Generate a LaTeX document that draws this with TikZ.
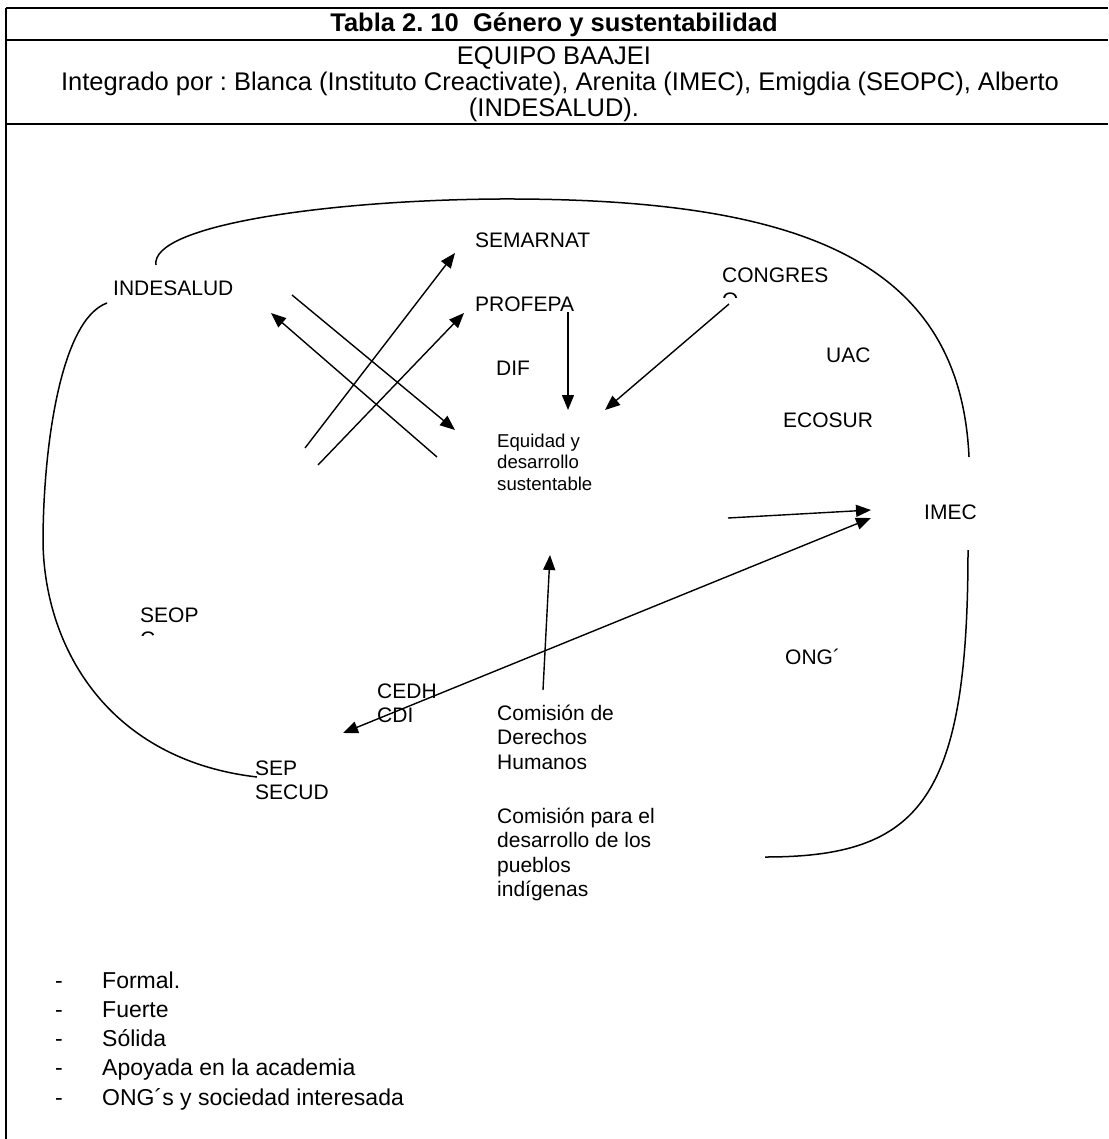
\documentclass[tikz,border=0pt]{standalone}
\usepackage{fontspec}
\setmainfont{Liberation Sans}
\usetikzlibrary{arrows.meta,calc,positioning}
\frenchspacing

\begin{document}
\begin{tikzpicture}[x=1pt,y=-1pt,>={Triangle[length=15pt,width=12pt]},
  rule/.style={line width=1.2pt},
  ring/.style={line width=1.5pt},
  link/.style={->,line width=1.4pt},
  head/.style={inner sep=0pt,anchor=base,font=\fontsize{25.5}{27}\selectfont},
  lbl/.style={inner sep=0pt,anchor=base west,align=left,font=\fontsize{21}{24.5}\selectfont},
  smalllbl/.style={lbl,font=\fontsize{18.6}{21.5}\selectfont},
  item/.style={inner sep=0pt,anchor=base west,font=\fontsize{23}{27}\selectfont}]
  \useasboundingbox (0,0) rectangle (1108,1139);

  % table frame
  \draw[rule] (6,8) -- (1108,8);
  \draw[rule] (6,40) -- (1108,40);
  \draw[rule] (6,124) -- (1108,124);
  \draw[rule] (6,8) -- (6,1139);

  % header
  \node[head,font=\fontsize{25.5}{27}\selectfont\bfseries] (title) at (554,32) {Tabla 2. 10\ \ Género y sustentabilidad};
  \node[head] (team) at (554,65) {EQUIPO BAAJEI};
  \node[head] (members) at (560,91) {Integrado por : Blanca (Instituto Creactivate), Arenita (IMEC), Emigdia (SEOPC), Alberto};
  \node[head] (members2) at (554,117) {(INDESALUD).};

  % actors (multi-line nodes sit on the baseline of their last line)
  \node[lbl] (indesalud) at (113,295) {INDESALUD};
  \node[lbl] (semarnat) at (475,248) {SEMARNAT};
  \node[lbl] (profepa) at (475,312) {PROFEPA};
  \node[lbl] (dif) at (496,375) {DIF};
  \node[lbl] (congreso) at (722,283) {CONGRES};
  \begin{scope}
    \clip (700,285) rectangle (860,297);
    \node[lbl] (congresoO) at (722,307.5) {O};
  \end{scope}
  \node[lbl] (uac) at (826,362) {UAC};
  \node[lbl] (ecosur) at (783,427) {ECOSUR};
  \node[smalllbl] (equidad) at (497,490) {Equidad y\\desarrollo\\sustentable};
  \node[lbl] (imec) at (924,519) {IMEC};
  \node[lbl] (seop) at (140,622) {SEOP};
  \begin{scope}
    \clip (120,624) rectangle (220,635);
    \node[lbl] (seopC) at (140,646.5) {C};
  \end{scope}
  \node[lbl] (ong) at (785,664) {ONG´};
  \node[lbl] (cedh) at (377,722.5) {CEDH\\CDI};
  \node[lbl] (cdh) at (497,769) {Comisión de\\Derechos\\Humanos};
  \node[lbl] (sep) at (255,799.5) {SEP\\SECUD};
  \node[lbl] (cdi) at (497,896.5) {Comisión para el\\desarrollo de los\\pueblos\\indígenas};

  % closing lines around the network
  \draw[ring] (156,265) .. controls (150,225) and (330,200) .. (500,199)
    .. controls (800,198) and (960,260) .. (969,457);
  \draw[ring] (107,303) .. controls (60,320) and (43,450) .. (43,543)
    .. controls (45,650) and (110,760) .. (257,777);
  \draw[ring] (968,550) .. controls (968,800) and (920,857) .. (765,857);

  % arrow ends
  \coordinate (s1) at (305,448);  \coordinate (t1) at (455,253);
  \coordinate (s2) at (318,465);  \coordinate (t2) at (464,313);
  \coordinate (s3) at (437,457);  \coordinate (t3) at (271,313);
  \coordinate (s4) at (292,295);  \coordinate (t4) at (455,430);
  \coordinate (s5) at (568,312);  \coordinate (t5) at (568,410);
  \coordinate (s6) at (729,304);  \coordinate (t6) at (605,410);
  \coordinate (s7) at (728,518);  \coordinate (t7) at (871,510);
  \coordinate (s8) at (343,733);  \coordinate (t8) at (871,518);
  \coordinate (s9) at (543,690);  \coordinate (t9) at (550,555);

  \draw[link] (s1) -- (t1);
  \draw[link] (s2) -- (t2);
  \draw[link] (s3) -- (t3);
  \draw[link] (s4) -- (t4);
  \draw[link] (s5) -- (t5);
  \draw[link] (s6) -- (t6);
  \draw[link] (s7) -- (t7);
  \draw[link,<->] (s8) -- (t8);
  \draw[link] (s9) -- (t9);

  % characteristics
  \foreach \txt [count=\i] in {Formal.,Fuerte,Sólida,Apoyada en la academia,ONG´s y sociedad interesada} {
    \node[item] (dash\i) at (55,{988+29.3*(\i-1)}) {-};
    \node[item] (feat\i) at (102,{988+29.3*(\i-1)}) {\txt};
  }
\end{tikzpicture}
\end{document}
